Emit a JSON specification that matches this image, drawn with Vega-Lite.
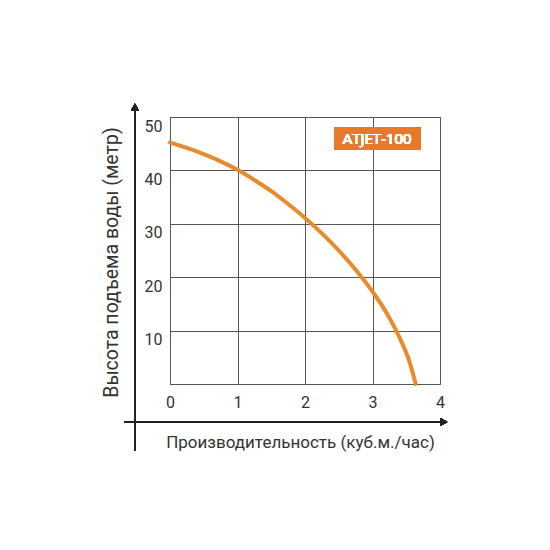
{
  "$schema": "https://vega.github.io/schema/vega-lite/v6.json",
  "width": 270,
  "height": 267,
  "autosize": {"type": "none"},
  "padding": {"left": 170, "top": 117, "right": 110, "bottom": 166},
  "background": "white",
  "config": {
    "view": {"stroke": "#555", "strokeWidth": 1},
    "font": "Roboto",
    "axis": {"labelFont": "Roboto", "titleFont": "Roboto", "labelColor": "#333", "titleColor": "#333", "gridColor": "#555", "gridOpacity": 1, "gridWidth": 1}
  },
  "data": {"values": [
    {"q": 0, "h": 45.2},
    {"q": 0.25, "h": 44.2},
    {"q": 0.5, "h": 43.05},
    {"q": 0.75, "h": 41.7},
    {"q": 1, "h": 40.1},
    {"q": 1.25, "h": 38.2},
    {"q": 1.5, "h": 36.1},
    {"q": 1.75, "h": 33.7},
    {"q": 2, "h": 31.1},
    {"q": 2.25, "h": 28.2},
    {"q": 2.5, "h": 25.0},
    {"q": 2.75, "h": 21.4},
    {"q": 3, "h": 17.3},
    {"q": 3.2, "h": 13.5},
    {"q": 3.4, "h": 8.7},
    {"q": 3.55, "h": 4.1},
    {"q": 3.64, "h": 0}
  ]},
  "layer": [
    {
      "mark": {"type": "line", "interpolate": "monotone", "color": "#E88A2E", "strokeWidth": 4, "strokeCap": "round"},
      "encoding": {
        "x": {"field": "q", "type": "quantitative", "scale": {"domain": [0, 4], "nice": false},
          "axis": {"values": [0, 1, 2, 3, 4], "format": "d", "domain": false, "ticks": false, "labelFontSize": 16, "labelPadding": 10, "labelFlush": false,
            "title": "Производительность (куб.м./час)", "titleFontSize": 17, "titleFontWeight": "normal", "titleX": 130, "titleY": 58, "titleBaseline": "middle", "titleAlign": "center"}},
        "y": {"field": "h", "type": "quantitative", "scale": {"domain": [0, 50], "nice": false},
          "axis": {"values": [10, 20, 30, 40, 50], "domain": false, "ticks": false, "labelFontSize": 16, "labelPadding": 8, "labelBaseline": "top", "labelOffset": 1, "labelFlush": false,
            "title": "Высота подъема воды (метр)", "titleFontSize": 19.5, "titleFontWeight": "normal", "titleX": -59, "titleY": 145, "titleBaseline": "middle", "titleAlign": "center", "titleAngle": -90}}
      }
    },
    {
      "mark": {"type": "rule", "color": "#222", "strokeWidth": 1.5},
      "encoding": {"x": {"datum": -0.67}, "x2": {"datum": 4.05}, "y": {"datum": -7.1}}
    },
    {
      "mark": {"type": "rule", "color": "#222", "strokeWidth": 1.5},
      "encoding": {"y": {"datum": -12.4}, "y2": {"datum": 52.0}, "x": {"datum": -0.52}}
    },
    {
      "mark": {"type": "point", "shape": "triangle-right", "filled": true, "color": "#222", "size": 60, "opacity": 1},
      "encoding": {"x": {"datum": 4.06}, "y": {"datum": -7.1}}
    },
    {
      "mark": {"type": "point", "shape": "triangle-up", "filled": true, "color": "#222", "size": 60, "opacity": 1},
      "encoding": {"x": {"datum": -0.52}, "y": {"datum": 51.9}}
    },
    {
      "mark": {"type": "rect", "color": "#E8792B"},
      "encoding": {"x": {"datum": 2.43}, "x2": {"datum": 3.71}, "y": {"datum": 48.1}, "y2": {"datum": 43.8}}
    },
    {
      "mark": {"type": "text", "text": "ATJET-100", "fill": "#ffffff", "fontSize": 15, "font": "Open Sans", "fontWeight": 400, "align": "center", "baseline": "middle"},
      "encoding": {"x": {"datum": 3.07}, "y": {"datum": 45.95}}
    }
  ]
}
